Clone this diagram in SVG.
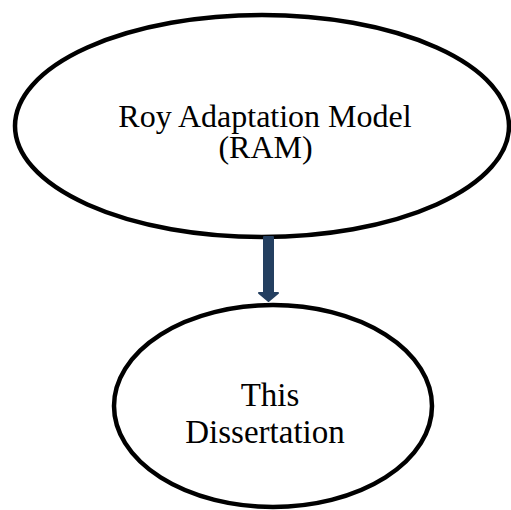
<svg xmlns="http://www.w3.org/2000/svg" width="511" height="510" viewBox="0 0 511 510">
<style>
.node ellipse{fill:#ffffff;stroke:#000000;stroke-width:4.5}
.lbl{font-family:"Liberation Serif","Times New Roman",serif;fill:#000000;text-anchor:middle}
.arrow{fill:#243F60;stroke:#243F60;stroke-width:2;stroke-linejoin:round}
</style>
<rect width="511" height="510" fill="#ffffff"/>
<g id="node-ram" class="node">
<ellipse cx="262" cy="126" rx="247" ry="111"/>
<text class="lbl" font-size="32" x="265" y="127">Roy Adaptation Model</text>
<text class="lbl" font-size="32" x="265.5" y="158">(RAM)</text>
</g>
<g id="node-dissertation" class="node">
<ellipse cx="273" cy="406" rx="159" ry="101"/>
<text class="lbl" font-size="33" x="270" y="406">This</text>
<text class="lbl" font-size="33" x="265" y="443">Dissertation</text>
</g>
<g id="connectors">
<path class="arrow" d="M264,237 L273,237 L273,293 L278,293 L268.5,301 L259,293 L264,293 Z"/>
</g>
</svg>
